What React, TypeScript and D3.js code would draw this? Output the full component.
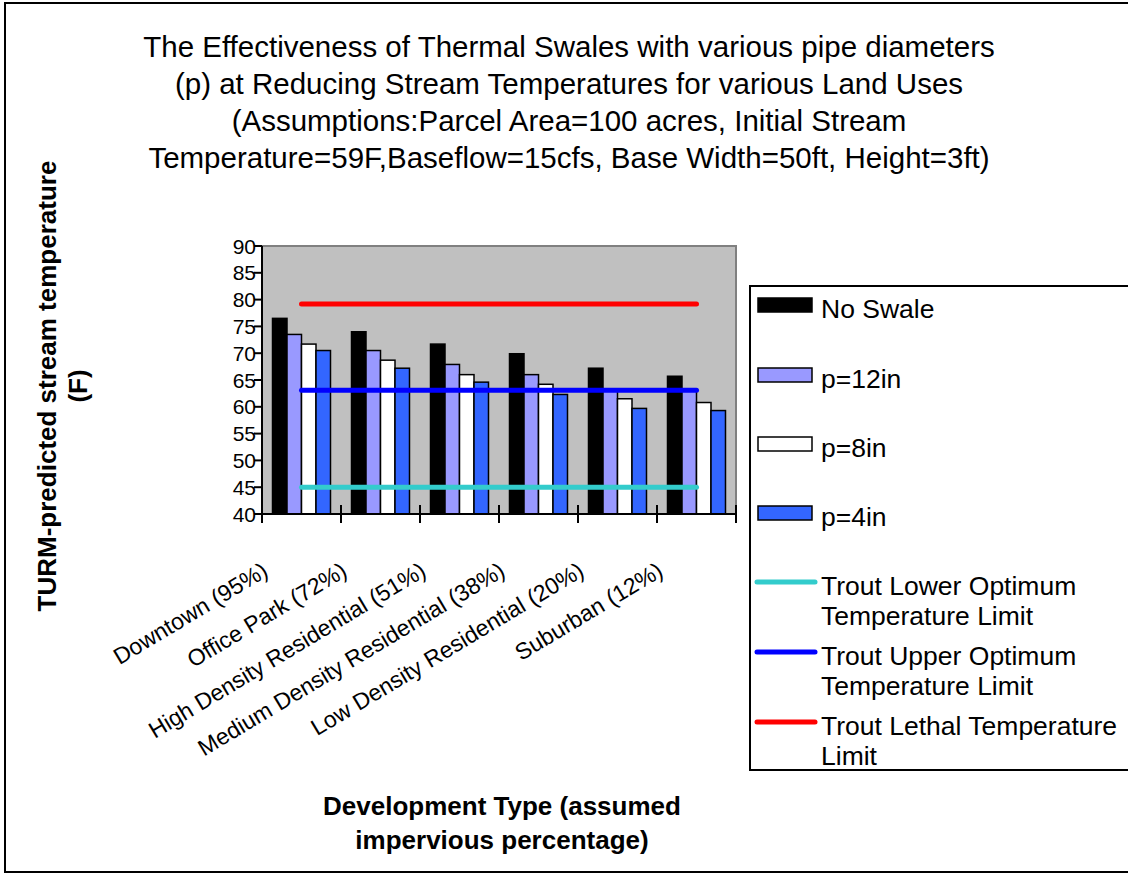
import React from "react";
import * as d3 from "d3";

const categories = [
  "Downtown (95%)",
  "Office Park (72%)",
  "High Density Residential (51%)",
  "Medium Density Residential (38%)",
  "Low Density Residential (20%)",
  "Suburban (12%)",
];
const seriesNames = ["No Swale", "p=12in", "p=8in", "p=4in"];
const noSwale = [76.5, 74.0, 71.7, 69.9, 67.2, 65.7];
const p12in = [73.5, 70.5, 67.9, 66.0, 63.3, 63.0];
const p8in = [71.7, 68.7, 66.0, 64.2, 61.5, 60.8];
const p4in = [70.5, 67.2, 64.6, 62.3, 59.7, 59.3];
const seriesColors = ["#000000", "#9999FF", "#FFFFFF", "#3366FF"];

const limitNames = [
  ["Trout Lower Optimum", "Temperature Limit"],
  ["Trout Upper Optimum", "Temperature Limit"],
  ["Trout Lethal Temperature", "Limit"],
];
const limitValues = [45, 63.1, 79.2];
const limitColors = ["#33CCCC", "#0000FF", "#FF0000"];

const yTicks = [40, 45, 50, 55, 60, 65, 70, 75, 80, 85, 90];
const titleLines = [
  "The Effectiveness of Thermal Swales with various pipe diameters",
  "(p) at Reducing Stream Temperatures for various Land Uses",
  "(Assumptions:Parcel Area=100 acres, Initial Stream",
  "Temperature=59F,Baseflow=15cfs, Base Width=50ft, Height=3ft)",
];
const yTitle = ["TURM-predicted stream temperature", "(F)"];
const xTitle = ["Development Type (assumed", "impervious percentage)"];

const FONT = "'Liberation Sans', Arial, Helvetica, sans-serif";

export default function App() {
  const W = 1128, H = 874;
  const left = 262, right = 736, top = 246, bottom = 514;
  const series = [noSwale, p12in, p8in, p4in];

  const x0 = d3.scaleBand<string>().domain(categories).range([left, right]).padding(0);
  const bw = x0.bandwidth();
  const x1 = d3
    .scaleBand<number>()
    .domain(d3.range(series.length))
    .range([bw * 0.133, bw * 0.867])
    .padding(0);
  const y = d3.scaleLinear().domain([40, 90]).range([bottom, top]);

  const firstC = (x0(categories[0]) as number) + bw / 2;
  const lastC = (x0(categories[categories.length - 1]) as number) + bw / 2;

  const legendBarRows = [305, 375, 444, 513];
  const legendLineRows = [582, 652, 722];

  return (
    <svg width={W} height={H} style={{ position: "absolute", left: 0, top: 0 }} fontFamily={FONT}>
      <rect x={0} y={0} width={W} height={H} fill="#fff" />
      <rect x={5} y={3} width={W + 10} height={869} fill="none" stroke="#000" strokeWidth={2} />

      {titleLines.map((t, i) => (
        <text key={i} x={569} y={57 + i * 37} fontSize={29.5} textAnchor="middle" fill="#000">
          {t}
        </text>
      ))}

      {/* plot area */}
      <rect x={left} y={top} width={right - left} height={bottom - top} fill="#C0C0C0" stroke="#808080" strokeWidth={2} />

      {/* bars */}
      {categories.map((c, ci) => (
        <g key={c} transform={`translate(${x0(c)},0)`}>
          {series.map((s, si) => (
            <rect
              key={si}
              x={x1(si)}
              y={y(s[ci])}
              width={x1.bandwidth()}
              height={y(40) - y(s[ci])}
              fill={seriesColors[si]}
              stroke="#000"
              strokeWidth={1.5}
            />
          ))}
        </g>
      ))}

      {/* limit lines */}
      {limitValues.map((v, i) => (
        <line
          key={i}
          x1={firstC}
          x2={lastC}
          y1={y(v)}
          y2={y(v)}
          stroke={limitColors[i]}
          strokeWidth={5}
          strokeLinecap="round"
        />
      ))}

      {/* axes */}
      <line x1={left} x2={left} y1={top} y2={bottom} stroke="#000" strokeWidth={2} />
      <line x1={left} x2={right} y1={bottom} y2={bottom} stroke="#000" strokeWidth={2} />
      {yTicks.map((t) => (
        <g key={t}>
          <line x1={left - 8} x2={left} y1={y(t)} y2={y(t)} stroke="#000" strokeWidth={2} />
          <text x={256} y={y(t) + 7.5} fontSize={21} textAnchor="end" fill="#000">
            {t}
          </text>
        </g>
      ))}
      {[...categories.map((c) => x0(c) as number), right].map((xv, i) => (
        <line key={i} x1={xv} x2={xv} y1={bottom - 9} y2={bottom + 9} stroke="#000" strokeWidth={2} />
      ))}
      {categories.map((c) => {
        const cx = (x0(c) as number) + bw / 2 - 32;
        const cy = 575;
        return (
          <text
            key={c}
            x={cx}
            y={cy}
            fontSize={23}
            textAnchor="end"
            fill="#000"
            transform={`rotate(-31,${cx},${cy})`}
          >
            {c}
          </text>
        );
      })}

      {/* axis titles */}
      {yTitle.map((t, i) => (
        <text
          key={i}
          x={0}
          y={0}
          fontSize={26}
          fontWeight="bold"
          textAnchor="middle"
          fill="#000"
          transform={`translate(${56 + i * 31},386) rotate(-90)`}
        >
          {t}
        </text>
      ))}
      {xTitle.map((t, i) => (
        <text key={i} x={502} y={815 + i * 34} fontSize={26} fontWeight="bold" textAnchor="middle" fill="#000">
          {t}
        </text>
      ))}

      {/* legend */}
      <rect x={750} y={286} width={400} height={484} fill="#fff" stroke="#000" strokeWidth={2} />
      {seriesNames.map((n, i) => (
        <g key={n}>
          <rect x={758} y={legendBarRows[i] - 7} width={54} height={14} fill={seriesColors[i]} stroke="#000" strokeWidth={1.5} />
          <text x={821} y={legendBarRows[i] + 13} fontSize={26.5} fill="#000">
            {n}
          </text>
        </g>
      ))}
      {limitNames.map((lines, i) => (
        <g key={i}>
          <line
            x1={757}
            x2={815}
            y1={legendLineRows[i]}
            y2={legendLineRows[i]}
            stroke={limitColors[i]}
            strokeWidth={5}
            strokeLinecap="round"
          />
          {lines.map((t, j) => (
            <text key={j} x={821} y={legendLineRows[i] + 13 + j * 30} fontSize={26.5} fill="#000">
              {t}
            </text>
          ))}
        </g>
      ))}
    </svg>
  );
}
